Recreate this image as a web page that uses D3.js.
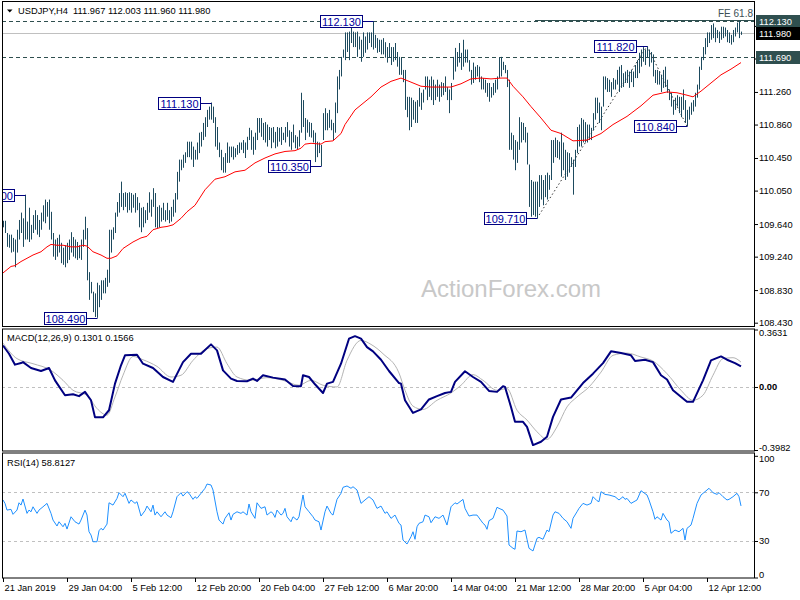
<!DOCTYPE html>
<html><head><meta charset="utf-8">
<script src="https://cdn.jsdelivr.net/npm/d3@7"></script>
<style>
body{margin:0;background:#fff}
svg{display:block}
text{font-family:"Liberation Sans",Arial,sans-serif}
</style>
</head><body>
<svg id="c" width="800" height="600"></svg>
<script>
// ---------- DATA ----------
const symbol = "USDJPY,H4";
const lastOHLC = ["111.967","112.003","111.960","111.980"];
const highs = [
109.68,109.68,109.53,109.51,109.51,109.47,109.45,109.57,109.69,109.78,
109.71,110.00,109.67,109.84,109.63,109.75,109.81,109.75,109.69,109.78,
109.87,109.94,109.91,109.94,109.79,109.53,109.45,109.47,109.51,109.41,
109.35,109.38,109.41,109.45,109.54,109.48,109.45,109.42,109.38,109.45,
109.57,109.73,109.59,109.05,108.93,108.81,108.79,108.92,108.89,108.95,
108.95,108.98,109.08,109.57,109.57,109.60,109.78,109.91,110.02,110.16,
110.02,110.03,110.02,110.03,110.02,110.00,110.02,109.97,109.90,109.84,
109.85,109.81,109.90,110.03,109.94,110.08,110.02,109.85,109.87,109.84,
109.90,109.81,109.90,109.81,109.85,109.94,110.02,110.28,110.43,110.43,
110.49,110.52,110.65,110.65,110.65,110.59,110.55,110.64,110.76,110.77,
110.88,110.95,111.04,111.08,111.13,111.08,110.95,110.83,110.64,110.55,
110.46,110.51,110.64,110.59,110.59,110.59,110.57,110.61,110.64,110.64,
110.67,110.64,110.71,110.82,110.79,110.71,110.76,110.94,110.94,110.94,
110.88,110.89,110.86,110.83,110.82,110.83,110.77,110.83,110.82,110.83,
110.76,110.83,110.89,110.79,110.77,110.86,110.73,110.71,110.79,111.25,
111.16,110.94,110.92,110.89,110.88,110.79,110.76,110.65,110.64,110.61,
111.00,111.06,111.00,111.04,110.92,110.88,111.13,111.45,111.53,111.69,
111.78,111.99,111.99,112.00,112.08,112.00,111.99,112.00,111.94,111.90,
111.99,111.94,111.99,111.99,111.99,112.13,111.96,111.92,111.90,111.90,
111.92,111.87,111.81,111.86,111.81,111.81,111.86,111.75,111.69,111.68,
111.53,111.53,111.20,111.20,111.19,111.16,111.14,111.16,111.31,111.25,
111.29,111.45,111.45,111.41,111.45,111.41,111.35,111.41,111.35,111.38,
111.37,111.45,111.32,111.29,111.37,111.69,111.80,111.75,111.86,111.74,
111.90,111.78,111.78,111.65,111.53,111.62,111.57,111.59,111.57,111.45,
111.43,111.41,111.37,111.37,111.32,111.37,111.41,111.45,111.68,111.69,
111.63,111.59,111.53,111.41,110.76,110.73,110.67,110.65,110.95,110.89,
110.88,110.83,110.76,110.37,110.18,110.16,110.16,110.16,110.24,110.24,
110.18,110.24,110.27,110.24,110.67,110.67,110.70,110.67,110.65,110.76,
110.64,110.55,110.52,110.51,110.46,110.43,110.55,110.83,110.86,110.94,
110.92,110.89,110.86,110.86,110.82,111.00,111.19,111.19,111.13,111.08,
111.45,111.45,111.43,111.41,111.38,111.43,111.41,111.53,111.57,111.59,
111.49,111.51,111.53,111.51,111.53,111.51,111.59,111.65,111.74,111.78,
111.81,111.78,111.82,111.78,111.75,111.72,111.53,111.53,111.51,111.47,
111.53,111.57,111.41,111.29,111.25,111.16,111.19,111.22,111.20,111.20,
111.29,111.16,111.04,111.08,111.13,111.16,111.25,111.35,111.57,111.69,
111.81,111.92,111.99,111.99,112.08,112.10,112.05,112.02,112.00,112.06,
112.06,112.05,112.02,111.99,111.96,112.02,112.05,112.11,112.13,112.00];
const lows = [
109.60,109.53,109.36,109.35,109.29,109.30,109.11,109.29,109.45,109.53,
109.36,109.45,109.45,109.42,109.45,109.53,109.57,109.51,109.48,109.57,
109.67,109.65,109.73,109.57,109.45,109.24,109.20,109.24,109.29,109.16,
109.14,109.11,109.16,109.20,109.29,109.24,109.22,109.20,109.22,109.20,
109.36,109.45,108.95,108.71,108.79,108.56,108.50,108.49,108.62,108.71,
108.79,108.79,108.87,108.92,109.29,109.45,109.53,109.73,109.78,109.85,
109.81,109.85,109.78,109.81,109.78,109.84,109.78,109.81,109.60,109.54,
109.60,109.65,109.69,109.78,109.73,109.85,109.60,109.59,109.60,109.67,
109.69,109.67,109.69,109.65,109.67,109.73,109.78,109.94,110.16,110.30,
110.33,110.39,110.46,110.46,110.43,110.34,110.43,110.43,110.51,110.59,
110.67,110.71,110.83,110.92,110.92,110.88,110.59,110.55,110.46,110.30,
110.27,110.27,110.39,110.39,110.46,110.43,110.46,110.49,110.51,110.55,
110.51,110.45,110.55,110.67,110.55,110.49,110.55,110.67,110.76,110.71,
110.67,110.64,110.59,110.67,110.57,110.64,110.57,110.59,110.65,110.61,
110.67,110.64,110.71,110.59,110.55,110.64,110.57,110.55,110.59,110.76,
110.83,110.67,110.76,110.71,110.70,110.64,110.40,110.46,110.51,110.35,
110.67,110.79,110.79,110.82,110.79,110.67,110.76,111.00,111.29,111.45,
111.68,111.65,111.75,111.65,111.86,111.81,111.81,111.69,111.78,111.63,
111.69,111.74,111.78,111.86,111.81,111.78,111.80,111.74,111.75,111.72,
111.72,111.68,111.62,111.68,111.59,111.63,111.65,111.57,111.47,111.47,
111.38,111.04,110.95,110.79,110.83,110.92,110.88,110.88,111.08,111.04,
111.13,111.29,111.16,111.20,111.16,111.10,111.16,111.20,111.14,111.20,
111.22,111.26,111.16,111.00,111.16,111.41,111.51,111.57,111.62,111.53,
111.57,111.62,111.62,111.51,111.35,111.37,111.41,111.45,111.38,111.29,
111.29,111.25,111.20,111.14,111.19,111.22,111.25,111.29,111.43,111.45,
111.53,111.49,111.32,110.55,110.55,110.43,110.30,110.39,110.55,110.64,
110.67,110.64,110.37,109.85,109.73,109.75,109.73,109.71,109.85,109.94,
109.87,109.97,109.94,110.06,110.18,110.39,110.46,110.45,110.43,110.22,
110.30,110.18,110.22,110.27,110.34,110.00,110.34,110.51,110.59,110.59,
110.64,110.64,110.64,110.67,110.67,110.79,110.92,111.00,110.88,110.79,
111.08,111.29,111.26,111.26,111.20,111.29,111.29,111.35,111.26,111.31,
111.32,111.37,111.37,111.31,111.38,111.32,111.43,111.43,111.49,111.57,
111.63,111.59,111.68,111.57,111.62,111.45,111.37,111.35,111.35,111.26,
111.31,111.32,111.25,111.16,111.08,110.98,111.04,111.08,111.00,110.95,
111.04,110.88,110.84,110.92,110.98,111.02,111.08,111.19,111.29,111.53,
111.65,111.72,111.81,111.86,111.90,111.92,111.87,111.92,111.86,111.90,
111.92,111.94,111.87,111.86,111.84,111.87,111.94,111.99,111.92,111.96];

// moving average (red) sampled at bar indices
const maIdx = [0,4,6,9,12,15,19,22,24,27,30,34,37,40,42,45,49,52,54,57,60,65,69,72,75,79,82,85,89,92,96,101,106,111,116,121,126,131,136,141,146,149,151,154,159,161,165,169,171,176,181,184,189,194,199,204,209,214,219,224,229,234,239,244,249,252,255,260,264,269,274,279,285,292,299,305,312,319,325,332,337,342,345,349,354,359,364,369];
const maVal = [109.04,109.12,109.13,109.18,109.22,109.26,109.30,109.36,109.39,109.38,109.38,109.36,109.36,109.38,109.37,109.30,109.26,109.22,109.22,109.25,109.34,109.42,109.47,109.49,109.57,109.60,109.61,109.63,109.71,109.79,109.87,110.06,110.19,110.22,110.28,110.30,110.39,110.45,110.50,110.53,110.54,110.57,110.62,110.63,110.62,110.65,110.66,110.75,110.86,111.04,111.14,111.20,111.32,111.39,111.43,111.38,111.33,111.32,111.32,111.32,111.36,111.42,111.43,111.42,111.43,111.43,111.33,111.20,111.08,110.94,110.79,110.75,110.66,110.67,110.75,110.86,110.96,111.09,111.22,111.26,111.25,111.22,111.20,111.27,111.37,111.47,111.54,111.62];

// MACD main and signal
const macdIdx = [0,3,6,9,10,14,19,23,26,31,35,38,41,44,46,50,53,56,59,61,67,70,75,80,85,90,94,99,104,107,110,114,117,122,125,127,130,135,141,145,149,150,153,156,160,162,165,169,173,176,179,182,185,189,193,198,199,201,205,209,213,217,221,224,226,231,235,239,243,247,250,251,254,256,260,262,265,269,272,275,279,284,290,295,300,304,309,314,316,321,325,329,332,335,340,342,345,350,354,359,362,366,369];
const macdVal = [0.262,0.210,0.141,0.151,0.157,0.120,0.101,0.120,0.042,-0.052,-0.046,-0.058,-0.031,-0.084,-0.192,-0.192,-0.147,0.021,0.137,0.200,0.204,0.147,0.120,0.063,0.032,0.157,0.210,0.210,0.269,0.231,0.105,0.053,0.038,0.036,0.053,0.038,0.074,0.059,0.047,0.006,0.005,0.074,0.063,0.017,-0.038,0.021,0.032,0.147,0.305,0.321,0.305,0.252,0.225,0.172,0.101,0.025,0.021,-0.084,-0.164,-0.142,-0.079,-0.058,-0.038,-0.031,0.032,0.099,0.063,0.032,-0.025,-0.031,0.005,0.000,-0.126,-0.220,-0.220,-0.252,-0.367,-0.346,-0.315,-0.189,-0.079,-0.067,0.025,0.084,0.151,0.225,0.214,0.200,0.164,0.172,0.157,0.074,0.047,-0.021,-0.073,-0.094,-0.094,0.042,0.168,0.193,0.172,0.151,0.130];
const sigIdx = [0,7,15,24,30,35,42,47,52,56,60,65,70,77,84,89,95,102,107,112,117,124,132,140,148,154,160,167,172,179,184,190,198,201,205,210,217,224,229,235,240,247,252,257,262,267,272,277,282,287,293,299,305,312,319,325,332,339,345,350,355,360,365,369];
const sigVal = [0.277,0.179,0.147,0.105,0.042,-0.021,-0.052,-0.136,-0.178,-0.063,0.074,0.193,0.172,0.130,0.063,0.074,0.168,0.242,0.252,0.147,0.063,0.042,0.059,0.042,0.011,0.042,0.011,0.000,0.168,0.294,0.269,0.210,0.088,-0.021,-0.121,-0.142,-0.084,-0.038,0.011,0.078,0.042,-0.021,-0.010,-0.147,-0.209,-0.283,-0.331,-0.252,-0.126,-0.063,0.000,0.094,0.200,0.214,0.189,0.164,0.084,-0.021,-0.084,-0.052,0.074,0.179,0.185,0.157];
const macdTitle = "MACD(12,26,9) 0.1301 0.1566";

// RSI(14)
const rsiIdx = [0,1,2,4,5,7,8,9,10,12,13,14,15,17,18,20,22,24,25,27,28,30,31,32,34,36,38,39,41,42,43,44,45,47,48,49,50,52,53,55,57,58,60,61,63,64,66,67,69,71,72,74,75,76,77,79,81,82,84,85,87,89,90,92,93,95,96,97,99,101,102,104,105,107,108,110,111,113,114,115,117,119,120,122,123,124,126,127,129,131,132,134,135,136,137,139,140,141,142,144,145,147,148,150,151,153,155,156,158,159,161,162,164,165,167,169,170,172,174,175,177,179,181,183,185,187,189,191,192,194,196,198,199,200,202,204,205,206,207,208,210,211,213,214,216,218,219,220,222,224,226,227,230,231,233,235,237,240,241,242,243,245,247,248,250,252,253,255,256,257,259,261,262,263,265,267,268,270,272,273,275,276,278,280,282,284,285,287,288,290,292,294,295,297,298,299,301,303,306,308,310,311,312,314,317,319,322,323,325,326,327,329,330,332,333,334,336,338,340,341,342,344,345,347,349,351,353,355,357,358,360,362,363,365,367,368,369];
const rsiVal = [63.7,60.9,55.4,56.0,51.9,55.4,61.4,59.5,64.5,52.7,55.4,54.0,58.1,52.7,55.4,58.1,60.9,52.7,47.2,42.3,45.8,41.7,44.5,39.8,49.9,45.8,43.9,47.2,55.4,51.3,37.6,34.9,29.4,29.4,38.4,40.4,39.0,43.9,61.4,59.5,65.0,69.7,66.4,69.2,60.9,63.7,60.9,62.3,50.5,54.9,58.7,54.0,59.5,51.3,54.0,49.9,54.0,51.3,49.1,54.0,66.4,69.7,66.9,70.5,69.2,64.2,66.4,65.0,69.2,73.3,76.8,76.0,71.9,54.0,47.2,43.9,48.6,53.2,47.2,51.9,54.0,52.7,54.0,51.3,60.4,54.0,48.6,61.4,56.8,58.1,51.3,54.0,52.7,49.4,55.4,51.3,52.7,56.8,49.9,45.8,49.9,47.2,49.9,67.8,58.1,54.0,49.9,47.2,45.8,39.0,54.0,58.7,52.7,51.3,64.2,69.2,74.1,75.2,73.3,74.6,71.9,60.9,63.7,66.4,63.7,56.8,58.7,52.7,54.0,48.6,51.3,44.5,43.1,30.8,27.5,33.5,37.6,31.4,41.7,44.5,45.8,51.3,49.9,45.0,49.9,48.6,49.9,51.3,43.1,58.1,61.4,60.4,64.2,56.8,50.5,51.3,51.3,44.5,43.1,39.6,46.7,48.6,57.7,56.8,55.4,50.5,26.7,24.0,23.2,38.2,37.6,39.0,31.4,24.0,21.8,32.2,33.0,31.4,39.0,37.6,51.3,54.0,52.7,48.6,45.8,40.4,48.6,54.0,56.8,60.9,59.5,60.9,66.4,63.1,62.3,70.5,68.3,67.8,66.4,63.7,66.4,64.2,65.0,60.9,63.7,71.3,67.8,63.7,54.0,47.8,49.9,47.2,52.7,47.2,45.8,36.3,39.0,37.6,40.4,30.8,40.4,43.1,48.6,60.9,67.8,70.5,73.3,69.7,68.3,69.7,66.4,63.7,64.2,66.4,69.2,66.4,58.8];
const rsiTitle = "RSI(14) 58.8127";
const rsiLevels = [70, 30];
const rsiTicks = [100, 70, 30, 0];

// axes
const priceTicks = [112.07,111.67,111.26,110.86,110.45,110.05,109.64,109.24,108.83,108.43];
const timeIdx = [0,32,64,96,128,160,192,224,256,288,320,352];
const timeLabels = ["21 Jan 2019","29 Jan 04:00","5 Feb 12:00","12 Feb 20:00","20 Feb 04:00","27 Feb 12:00","6 Mar 20:00","14 Mar 04:00","21 Mar 12:00","28 Mar 20:00","5 Apr 04:00","12 Apr 12:00"];
const macdTicks = [0.3631, 0, -0.3982];

// annotations
const markIdx = [11,47,104,159,185,267,322,342];
const markVal = [110.000,108.490,111.130,110.350,112.130,109.710,111.820,110.840];
const levelLines = [112.13, 111.69];
const bidPrice = 111.98;
const feLevel = 112.144, feStartIdx = 266, feText = "FE 61.8";
const trendIdx = [267,322,342];
const trendVal = [109.71,111.82,110.84];

// ---------- CHART ----------
const svg = d3.select("#c");
const L = 2, R = 755;
const P = {t:1.5, b:326.5}, M = {t:329, b:451}, S = {t:453, b:578};

const x = d3.scaleLinear().domain([0, 369]).range([3, 741]);
const y = d3.scaleLinear().domain([108.43, 112.13]).range([322.7, 21]);
const ym = d3.scaleLinear().domain([-0.3982, 0.3631]).range([450, 329.5]);
const yr = d3.scaleLinear().domain([0, 100]).range([577.5, 455.8]);

const defs = svg.append("defs");
[["cp",P],["cm",M],["cr",S]].forEach(([id,p])=>{
  defs.append("clipPath").attr("id",id).append("rect")
    .attr("x",L).attr("y",p.t).attr("width",R-L).attr("height",p.b-p.t);
});

const FS = "9.3px";

// ---- price panel ----
const gp = svg.append("g").attr("clip-path","url(#cp)");
// watermark
gp.append("text").attr("x",511).attr("y",297).attr("text-anchor","middle")
  .attr("font-size","24px").attr("fill","#c8c8c8").text("ActionForex.com");
// bid line
gp.append("line").attr("x1",L).attr("x2",R).attr("y1",Math.round(y(bidPrice))+0.5).attr("y2",Math.round(y(bidPrice))+0.5)
  .attr("stroke","#c0c0c0");
// level dashed lines
gp.selectAll("line.lv").data(levelLines).join("line").attr("class","lv")
  .attr("x1",L).attr("x2",R).attr("y1",d=>Math.round(y(d))+0.5).attr("y2",d=>Math.round(y(d))+0.5)
  .attr("stroke","#2f4f4f").attr("stroke-dasharray","4,3");
// FE line
gp.append("line").attr("x1",x(feStartIdx)).attr("x2",R).attr("y1",Math.round(y(feLevel))+0.5).attr("y2",Math.round(y(feLevel))+0.5)
  .attr("stroke","#2f4f4f");
gp.append("text").attr("x",R-2).attr("y",y(feLevel)-3).attr("text-anchor","end")
  .attr("font-size","10px").attr("fill","#3c4f55").text(feText);
// trend dotted lines
gp.append("path").datum(trendIdx.map((d,k)=>[d,trendVal[k]]))
  .attr("d",d3.line().x(d=>x(d[0])).y(d=>y(d[1])))
  .attr("fill","none").attr("stroke","#000").attr("stroke-width",0.8).attr("stroke-dasharray","1.5,2.5");
// bars
gp.selectAll("line.bar").data(highs).join("line").attr("class","bar")
  .attr("x1",(d,i)=>Math.round(x(i))+0.5).attr("x2",(d,i)=>Math.round(x(i))+0.5)
  .attr("y1",d=>y(d)).attr("y2",(d,i)=>Math.max(y(lows[i]), y(d)+1))
  .attr("stroke","#1d4a5e").attr("stroke-width",1);
// MA
gp.append("path").datum(maIdx.map((d,k)=>[d,maVal[k]]))
  .attr("d",d3.line().x(d=>x(d[0])).y(d=>y(d[1])))
  .attr("fill","none").attr("stroke","#ff0000").attr("stroke-width",1);
// marker labels
const mk = gp.selectAll("g.mk").data(markIdx).join("g").attr("class","mk");
mk.append("line").attr("x1",d=>x(d)-10).attr("x2",d=>x(d)+0.5)
  .attr("y1",(d,k)=>Math.round(y(markVal[k]))+0.5).attr("y2",(d,k)=>Math.round(y(markVal[k]))+0.5)
  .attr("stroke","#000080");
mk.append("rect").attr("x",d=>Math.round(x(d))-52.5).attr("y",(d,k)=>Math.round(y(markVal[k]))-5.5)
  .attr("width",42).attr("height",12).attr("fill","#fff").attr("stroke","#000080");
mk.append("text").attr("x",d=>Math.round(x(d))-31.5).attr("y",(d,k)=>Math.round(y(markVal[k]))+4.5)
  .attr("text-anchor","middle").attr("font-size","11px").attr("fill","#0000a0")
  .text((d,k)=>markVal[k].toFixed(3));
// title
svg.append("path").attr("d","M7,9.5 L12.5,9.5 L9.75,12.5 Z").attr("fill","#000");
svg.append("text").attr("x",18).attr("y",14).attr("font-size",FS).attr("fill","#000")
  .text(symbol + "\u00a0\u00a0" + lastOHLC.join(" "));

// ---- MACD panel ----
const gm = svg.append("g").attr("clip-path","url(#cm)");
gm.append("line").attr("x1",L).attr("x2",R).attr("y1",Math.round(ym(0))+0.5).attr("y2",Math.round(ym(0))+0.5)
  .attr("stroke","#c0c0c0").attr("stroke-dasharray","3,3");
gm.append("path").datum(sigIdx.map((d,k)=>[d,sigVal[k]]))
  .attr("d",d3.line().x(d=>x(d[0])).y(d=>ym(d[1])).curve(d3.curveMonotoneX))
  .attr("fill","none").attr("stroke","#b4b4b4").attr("stroke-width",1);
gm.append("path").datum(macdIdx.map((d,k)=>[d,macdVal[k]]))
  .attr("d",d3.line().x(d=>x(d[0])).y(d=>ym(d[1])))
  .attr("fill","none").attr("stroke","#000080").attr("stroke-width",2).attr("stroke-linejoin","round");
svg.append("text").attr("x",7).attr("y",341).attr("font-size",FS).attr("fill","#000").text(macdTitle);

// ---- RSI panel ----
const gr = svg.append("g").attr("clip-path","url(#cr)");
gr.selectAll("line.rl").data(rsiLevels).join("line").attr("class","rl")
  .attr("x1",L).attr("x2",R).attr("y1",d=>Math.round(yr(d))+0.5).attr("y2",d=>Math.round(yr(d))+0.5)
  .attr("stroke","#c0c0c0").attr("stroke-dasharray","3,3");
gr.append("path").datum(rsiIdx.map((d,k)=>[d,rsiVal[k]]))
  .attr("d",d3.line().x(d=>x(d[0])).y(d=>yr(d[1])))
  .attr("fill","none").attr("stroke","#1e90ff").attr("stroke-width",1);
svg.append("text").attr("x",7).attr("y",466).attr("font-size",FS).attr("fill","#000").text(rsiTitle);

// ---- frames ----
[P,M,S].forEach(p=>{
  svg.append("rect").attr("x",L+0.5).attr("y",p.t).attr("width",R-L-1).attr("height",p.b-p.t)
    .attr("fill","none").attr("stroke","#000").attr("stroke-width",1);
});

// ---- axes ----
function styleAxis(g){
  g.select(".domain").remove();
  g.selectAll(".tick line").attr("stroke","#000");
  g.selectAll(".tick text").attr("font-size",FS).attr("fill","#000")
    .attr("font-family","'Liberation Sans',Arial,sans-serif");
}
const ap = svg.append("g").attr("transform",`translate(${R},0)`)
  .call(d3.axisRight(y).tickValues(priceTicks).tickSize(3).tickPadding(1).tickFormat(d3.format(".3f")));
styleAxis(ap);
const am = svg.append("g").attr("transform",`translate(${R},0)`)
  .call(d3.axisRight(ym).tickValues(macdTicks).tickSize(3).tickPadding(1)
    .tickFormat(d=>d===0?"0.00":d.toFixed(4)));
styleAxis(am);
am.selectAll(".tick text").attr("dy",d=>d>0.3?"0.6em":(d<-0.3?"0.1em":"0.32em"))
  .style("font-weight",d=>d===0?"bold":null);
const ar = svg.append("g").attr("transform",`translate(${R},0)`)
  .call(d3.axisRight(yr).tickValues(rsiTicks).tickSize(3).tickPadding(1));
styleAxis(ar);
ar.selectAll(".tick text").attr("dy",d=>d===100?"0.65em":(d===0?"0em":"0.32em"));
const at = svg.append("g").attr("transform",`translate(0,${S.b})`)
  .call(d3.axisBottom(x).tickValues(timeIdx).tickSize(4).tickPadding(2).tickFormat((d,k)=>timeLabels[k]));
styleAxis(at);
at.selectAll(".tick text").attr("text-anchor","start").attr("x",1);

// axis price boxes
const boxes = [[112.13,"#2f4f4f"],[111.98,"#000"],[111.69,"#2f4f4f"]];
const bg = svg.append("g");
bg.selectAll("rect").data(boxes).join("rect")
  .attr("x",R+1).attr("y",d=>Math.round(y(d[0]))-6).attr("width",45).attr("height",13).attr("fill",d=>d[1]);
bg.selectAll("text").data(boxes).join("text")
  .attr("x",R+4).attr("y",d=>Math.round(y(d[0]))+3.5).attr("font-size",FS).attr("fill","#fff")
  .text(d=>d[0].toFixed(3));
</script>
</body></html>
